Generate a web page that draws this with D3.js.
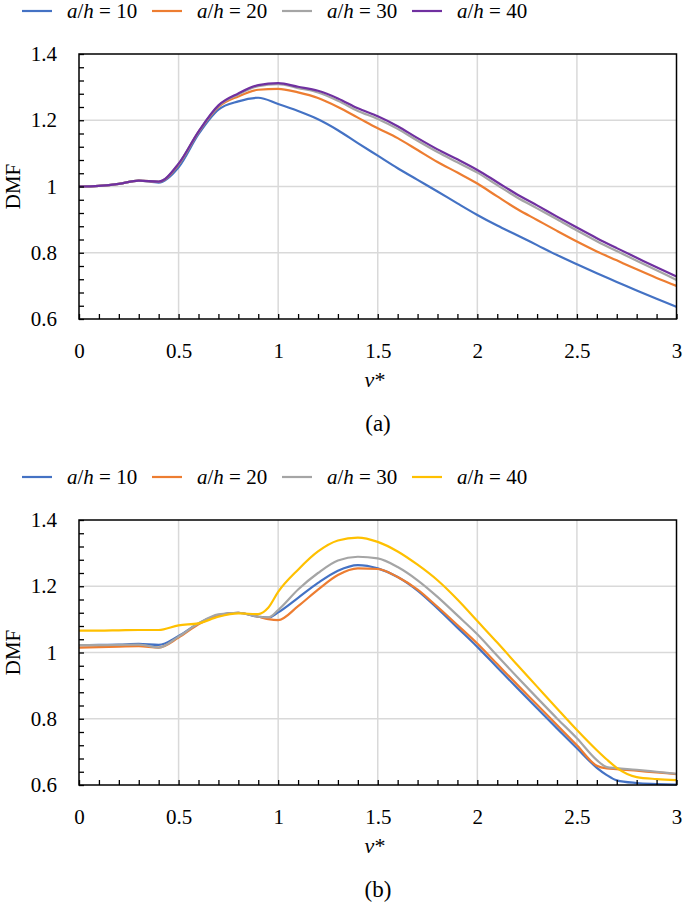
<!DOCTYPE html>
<html>
<head>
<meta charset="utf-8">
<script src="https://cdn.jsdelivr.net/npm/d3@7"></script>
<style>
  body { margin: 0; background: #fff; }
  svg text { font-family: "Liberation Serif", "Times New Roman", "DejaVu Serif", serif; }
</style>
</head>
<body>
<svg id="chart" width="685" height="904"></svg>
<script>
"use strict";

// series labels (a/h ratios)
const ratios = [10, 20, 30, 40];

// panel (a)
const vStarA = [0, 0.1, 0.2, 0.3, 0.4, 0.5, 0.6, 0.7, 0.8, 0.9, 1.0, 1.1, 1.2, 1.3, 1.4, 1.5,
  1.6, 1.7, 1.8, 1.9, 2.0, 2.1, 2.2, 2.3, 2.4, 2.5, 2.6, 2.7, 2.8, 2.9, 3.0];
const dmfA10 = [1.000, 1.002, 1.008, 1.018, 1.012, 1.058, 1.158, 1.232, 1.257, 1.268, 1.249, 1.228, 1.203, 1.170, 1.131, 1.093,
  1.055, 1.020, 0.985, 0.949, 0.914, 0.882, 0.853, 0.823, 0.793, 0.765, 0.738, 0.712, 0.686, 0.661, 0.637];
const dmfA20 = [1.000, 1.002, 1.008, 1.018, 1.014, 1.066, 1.164, 1.240, 1.272, 1.292, 1.295, 1.284, 1.267, 1.240, 1.208, 1.176,
  1.146, 1.110, 1.074, 1.042, 1.009, 0.970, 0.932, 0.899, 0.866, 0.834, 0.804, 0.777, 0.750, 0.724, 0.700];
const dmfA30 = [1.000, 1.002, 1.008, 1.018, 1.015, 1.068, 1.165, 1.243, 1.278, 1.303, 1.309, 1.297, 1.284, 1.259, 1.228, 1.204,
  1.174, 1.138, 1.104, 1.073, 1.042, 1.004, 0.967, 0.934, 0.901, 0.867, 0.835, 0.805, 0.776, 0.747, 0.718];
const dmfA40 = [1.000, 1.002, 1.008, 1.018, 1.015, 1.069, 1.166, 1.245, 1.281, 1.306, 1.312, 1.301, 1.289, 1.266, 1.236, 1.212,
  1.182, 1.146, 1.112, 1.082, 1.050, 1.013, 0.976, 0.943, 0.909, 0.876, 0.844, 0.814, 0.785, 0.756, 0.728];

// panel (b)
const vStarB = [0, 0.1, 0.2, 0.3, 0.4, 0.5, 0.6, 0.7, 0.8, 0.9, 0.95, 1.0, 1.1, 1.2, 1.3, 1.4, 1.5,
  1.6, 1.7, 1.8, 1.9, 2.0, 2.1, 2.2, 2.3, 2.4, 2.5, 2.6, 2.65, 2.7, 2.8, 2.9, 3.0];
const dmfB10 = [1.022, 1.023, 1.024, 1.026, 1.023, 1.050, 1.088, 1.113, 1.120, 1.108, 1.105, 1.121, 1.165, 1.210, 1.247, 1.264, 1.254,
  1.228, 1.187, 1.133, 1.075, 1.017, 0.955, 0.893, 0.832, 0.771, 0.711, 0.652, 0.630, 0.614, 0.606, 0.603, 0.601];
const dmfB20 = [1.015, 1.016, 1.018, 1.019, 1.015, 1.045, 1.085, 1.112, 1.120, 1.108, 1.101, 1.098, 1.140, 1.190, 1.234, 1.254, 1.252,
  1.228, 1.190, 1.138, 1.083, 1.027, 0.965, 0.903, 0.842, 0.781, 0.720, 0.658, 0.650, 0.648, 0.643, 0.638, 0.633];
const dmfB30 = [1.022, 1.022, 1.023, 1.024, 1.015, 1.048, 1.088, 1.115, 1.120, 1.108, 1.106, 1.128, 1.190, 1.240, 1.278, 1.289, 1.284,
  1.258, 1.218, 1.168, 1.112, 1.055, 0.990, 0.926, 0.863, 0.801, 0.741, 0.675, 0.654, 0.651, 0.646, 0.640, 0.634];
const dmfB40 = [1.066, 1.066, 1.067, 1.068, 1.068, 1.082, 1.088, 1.108, 1.118, 1.116, 1.135, 1.183, 1.250, 1.305, 1.338, 1.347, 1.334,
  1.305, 1.265, 1.218, 1.160, 1.095, 1.030, 0.963, 0.897, 0.831, 0.766, 0.705, 0.677, 0.652, 0.624, 0.618, 0.615];

const xTicks = [0, 0.5, 1, 1.5, 2, 2.5, 3];
const yTicks = [0.6, 0.8, 1, 1.2, 1.4];

const colorsA = ["#4472C4", "#ED7D31", "#A5A5A5", "#7030A0"];
const colorsB = ["#4472C4", "#ED7D31", "#A5A5A5", "#FFC000"];

const svg = d3.select("#chart");
const left = 79, right = 676.5, plotH = 265;
const serif = "Liberation Serif, Times New Roman, serif";

const x = d3.scaleLinear().domain([0, 3]).range([left, right]);

function drawPanel(top, vStar, seriesList, colors, tag) {
  const y = d3.scaleLinear().domain([0.6, 1.4]).range([top + plotH, top]);
  const g = svg.append("g");

  // gridlines
  g.selectAll(".vgrid").data([0.5, 1, 1.5, 2, 2.5]).enter().append("line")
    .attr("x1", d => x(d)).attr("x2", d => x(d))
    .attr("y1", top).attr("y2", top + plotH)
    .attr("stroke", "#d9d9d9").attr("stroke-width", 1.5);
  g.selectAll(".hgrid").data([0.8, 1, 1.2]).enter().append("line")
    .attr("x1", left).attr("x2", right)
    .attr("y1", d => y(d)).attr("y2", d => y(d))
    .attr("stroke", "#d9d9d9").attr("stroke-width", 1.5);

  // curves
  const line = d3.line()
    .x((d, i) => x(vStar[i]))
    .y(d => y(d))
    .curve(d3.curveMonotoneX);

  seriesList.forEach((s, i) => {
    g.append("path")
      .attr("d", line(s))
      .attr("fill", "none")
      .attr("stroke", colors[i])
      .attr("stroke-width", 2.2);
  });

  // minor ticks (inward)
  const xMinor = d3.axisBottom(x).tickValues(d3.range(0, 3.001, 0.1)).tickSize(-5).tickFormat("");
  g.append("g").attr("transform", `translate(0,${top + plotH})`).call(xMinor)
    .call(a => a.select(".domain").remove())
    .selectAll("line").attr("stroke", "#000").attr("stroke-width", 1.3);
  const yMinor = d3.axisLeft(y).tickValues(d3.range(0.6, 1.4001, 0.04)).tickSize(-5).tickFormat("");
  g.append("g").attr("transform", `translate(${left},0)`).call(yMinor)
    .call(a => a.select(".domain").remove())
    .selectAll("line").attr("stroke", "#000").attr("stroke-width", 1.3);

  // frame
  g.append("rect")
    .attr("x", left).attr("y", top)
    .attr("width", right - left).attr("height", plotH)
    .attr("fill", "none").attr("stroke", "#000").attr("stroke-width", 1.5);

  // tick labels
  const xAxis = d3.axisBottom(x).tickValues(xTicks).tickSize(0).tickPadding(24).tickFormat(d3.format("~g"));
  g.append("g").attr("transform", `translate(0,${top + plotH})`).call(xAxis)
    .attr("font-family", serif).attr("font-size", 21)
    .call(a => a.select(".domain").remove())
    .selectAll("text").attr("fill", "#000");
  const yAxis = d3.axisLeft(y).tickValues(yTicks).tickSize(0).tickPadding(22).tickFormat(d3.format("~g"));
  g.append("g").attr("transform", `translate(${left},0)`).call(yAxis)
    .attr("font-family", serif).attr("font-size", 21)
    .call(a => a.select(".domain").remove())
    .selectAll("text").attr("fill", "#000");

  // axis titles
  g.append("text")
    .attr("transform", `translate(20,${y(1)}) rotate(-90)`)
    .attr("text-anchor", "middle")
    .attr("font-size", 21)
    .text("DMF");
  const vt = g.append("text")
    .attr("x", 375).attr("y", top + plotH + 68)
    .attr("text-anchor", "middle")
    .attr("font-size", 22);
  vt.append("tspan").attr("font-style", "italic").text("v");
  vt.append("tspan").text("*");
  g.append("text")
    .attr("x", 378).attr("y", top + plotH + 112)
    .attr("text-anchor", "middle")
    .attr("font-size", 23)
    .text(tag);

  // legend
  const ly = top - 43;
  ratios.forEach((r, i) => {
    const lx = 22 + i * 130;
    g.append("line")
      .attr("x1", lx).attr("x2", lx + 30)
      .attr("y1", ly).attr("y2", ly)
      .attr("stroke", colors[i]).attr("stroke-width", 2.2);
    const t = g.append("text")
      .attr("x", lx + 45).attr("y", ly + 7)
      .attr("font-size", 21);
    t.append("tspan").attr("font-style", "italic").text("a");
    t.append("tspan").text("/");
    t.append("tspan").attr("font-style", "italic").text("h");
    t.append("tspan").text(" = " + r);
  });
}

drawPanel(54, vStarA, [dmfA10, dmfA20, dmfA30, dmfA40], colorsA, "(a)");
drawPanel(520, vStarB, [dmfB10, dmfB20, dmfB30, dmfB40], colorsB, "(b)");
</script>
</body>
</html>
